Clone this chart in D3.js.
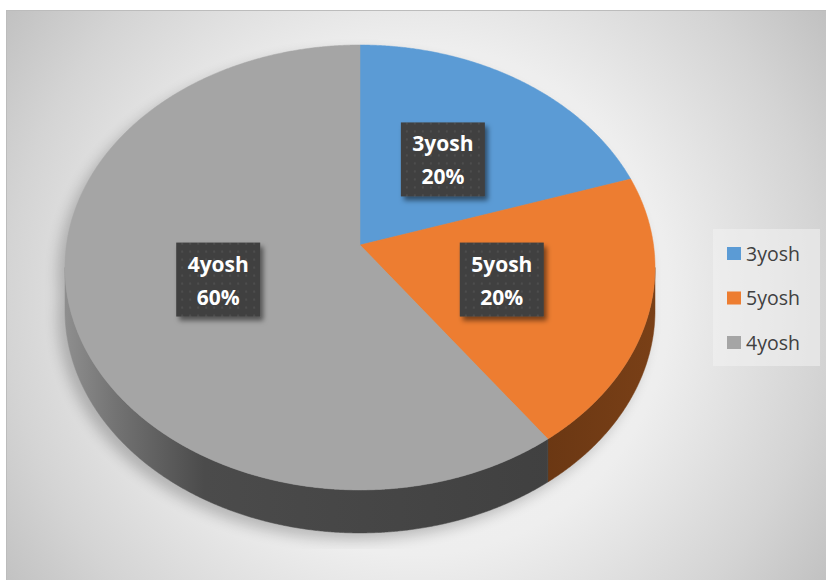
<!DOCTYPE html>
<html>
<head>
<meta charset="utf-8">
<script src="https://d3js.org/d3.v7.min.js"></script>
<style>
  body { margin: 0; background: #fff; }
  svg text { font-family: "Open Sans", "DejaVu Sans", sans-serif; }
</style>
</head>
<body>
<script>

// slice data, in drawing order (clockwise from 12 o'clock)
var categories = ["3yosh", "5yosh", "4yosh"];
var shares = [20, 20, 60];

var W = 826, H = 580;

var svg = d3.select("body").append("svg")
    .attr("width", W)
    .attr("height", H);

var defs = svg.append("defs");

// chart area background: soft radial grey
var bg = defs.append("radialGradient")
    .attr("id", "bgGrad")
    .attr("gradientUnits", "userSpaceOnUse")
    .attr("cx", 415).attr("cy", 300).attr("r", 510);
[[0, "#f3f3f3"], [0.5, "#eeeeee"], [0.8, "#d4d4d4"], [1, "#bfbfbf"]].forEach(function(s) {
  bg.append("stop").attr("offset", s[0]).attr("stop-color", s[1]);
});

// side wall shading for the big grey slice
var wallGrey = defs.append("linearGradient")
    .attr("id", "wallGrey")
    .attr("gradientUnits", "userSpaceOnUse")
    .attr("x1", 66).attr("x2", 560).attr("y1", 0).attr("y2", 0);
[[0, "#8e8e8e"], [0.1, "#737373"], [0.28, "#4b4b4b"], [1, "#404040"]].forEach(function(s) {
  wallGrey.append("stop").attr("offset", s[0]).attr("stop-color", s[1]);
});

var wallOrange = defs.append("linearGradient")
    .attr("id", "wallOrange")
    .attr("gradientUnits", "userSpaceOnUse")
    .attr("x1", 540).attr("x2", 660).attr("y1", 0).attr("y2", 0);
[[0, "#6a3713"], [1, "#7a4017"]].forEach(function(s) {
  wallOrange.append("stop").attr("offset", s[0]).attr("stop-color", s[1]);
});

defs.append("filter").attr("id", "pieShadow")
    .attr("x", "-20%").attr("y", "-20%").attr("width", "140%").attr("height", "140%")
  .append("feGaussianBlur").attr("stdDeviation", 7);

var boxShadow = defs.append("filter").attr("id", "boxShadow")
    .attr("x", "-20%").attr("y", "-20%").attr("width", "150%").attr("height", "150%");
boxShadow.append("feDropShadow")
    .attr("dx", 3).attr("dy", 4).attr("stdDeviation", 2.5)
    .attr("flood-color", "#000").attr("flood-opacity", 0.5);

// dotted texture for the data label boxes
var dots = defs.append("pattern")
    .attr("id", "dots")
    .attr("patternUnits", "userSpaceOnUse")
    .attr("width", 8).attr("height", 8);
dots.append("rect").attr("width", 8).attr("height", 8).attr("fill", "#404040");
dots.append("rect").attr("x", 3).attr("y", 3).attr("width", 2).attr("height", 2).attr("fill", "#4e4e4e");

defs.append("clipPath").attr("id", "plotClip")
  .append("rect").attr("x", 7).attr("y", 11).attr("width", W).attr("height", 538);

// chart area
svg.append("rect")
    .attr("x", 6.5).attr("y", 10.5)
    .attr("width", W).attr("height", H)
    .attr("fill", "url(#bgGrad)")
    .attr("stroke", "#bcbcbc");

var color = d3.scaleOrdinal()
    .domain(categories)
    .range(["#5b9bd5", "#ed7d31", "#a5a5a5"]);

var wallFill = d3.scaleOrdinal()
    .domain(categories)
    .range(["#2e5f8e", "url(#wallOrange)", "url(#wallGrey)"]);

var total = d3.sum(shares);
var pct = d3.format(".0%");

var arcs = d3.pie().sort(null)
    .startAngle(0).endAngle(2 * Math.PI)
    .value(function(d) { return d.value; })(
      categories.map(function(c, i) { return {name: c, value: shares[i]}; }));

// tilted disc seen in perspective: angle t clockwise from top, f = fraction of radius
var cx = 360, cy = 245, A = 293.5, B = 220.2, k = 0.101, depth = 43;
function proj(t, f) {
  if (f == null) f = 1;
  var w = 1 + k * f * Math.cos(t);
  return [cx + A * f * Math.sin(t) / w, cy - B * f * Math.cos(t) / w];
}

function rimPoints(a0, a1, dy) {
  var n = Math.max(2, Math.ceil((a1 - a0) / 0.005));
  return d3.range(n + 1).map(function(i) {
    var p = proj(a0 + (a1 - a0) * i / n);
    return [p[0], p[1] + (dy || 0)];
  });
}

var line = d3.line().curve(d3.curveLinear);

// the front half of the rim is visible between the two silhouette points
var tRight = Math.acos(-k), tLeft = 2 * Math.PI - Math.acos(-k);

// soft shadow under the whole pie
var shadow = svg.append("g")
    .attr("clip-path", "url(#plotClip)")
  .append("g")
    .attr("filter", "url(#pieShadow)")
    .attr("transform", "translate(-7,7)")
    .attr("fill", "#000")
    .attr("opacity", 0.22);
shadow.append("path").attr("d", line(rimPoints(0, 2 * Math.PI)) + "Z");
shadow.append("path").attr("d", line(rimPoints(0, 2 * Math.PI, depth)) + "Z");

// side walls
svg.append("g").selectAll("path")
    .data(arcs.filter(function(d) { return d.endAngle > tRight && d.startAngle < tLeft; }))
  .join("path")
    .attr("d", function(d) {
      var s = Math.max(d.startAngle, tRight), e = Math.min(d.endAngle, tLeft);
      var pts = rimPoints(s, e).concat(rimPoints(s, e, depth).reverse());
      return line(pts) + "Z";
    })
    .attr("fill", function(d) { return wallFill(d.data.name); })
    .attr("stroke", function(d) { return wallFill(d.data.name); })
    .attr("stroke-width", 0.5);

// top faces
svg.append("g").selectAll("path")
    .data(arcs)
  .join("path")
    .attr("d", function(d) {
      return line([proj(0, 0)].concat(rimPoints(d.startAngle, d.endAngle))) + "Z";
    })
    .attr("fill", function(d) { return color(d.data.name); })
    .attr("stroke", function(d) { return color(d.data.name); })
    .attr("stroke-width", 0.5);

// data labels
var boxW = 84, boxH = 74;
var labels = svg.append("g").selectAll("g")
    .data(arcs)
  .join("g")
    .attr("transform", function(d) {
      var p = proj((d.startAngle + d.endAngle) / 2, 0.5);
      return "translate(" + p[0] + "," + p[1] + ")";
    });

labels.append("rect")
    .attr("x", -boxW / 2).attr("y", -boxH / 2)
    .attr("width", boxW).attr("height", boxH)
    .attr("fill", "url(#dots)")
    .attr("filter", "url(#boxShadow)");

labels.append("text")
    .attr("text-anchor", "middle")
    .attr("y", -8)
    .attr("fill", "#fff")
    .style("font-size", "21px")
    .style("font-weight", "bold")
    .text(function(d) { return d.data.name; });

labels.append("text")
    .attr("text-anchor", "middle")
    .attr("y", 25)
    .attr("fill", "#fff")
    .style("font-size", "21px")
    .style("font-weight", "bold")
    .text(function(d) { return pct(d.data.value / total); });

// legend
var legend = svg.append("g").attr("transform", "translate(713,229)");
legend.append("rect")
    .attr("width", 107).attr("height", 137)
    .attr("fill", "#f2f2f2").attr("opacity", 0.55);

var item = legend.selectAll("g.item")
    .data(categories)
  .join("g")
    .attr("class", "item")
    .attr("transform", function(d, i) { return "translate(14," + (18 + i * 44.5) + ")"; });

item.append("rect")
    .attr("width", 14).attr("height", 13)
    .attr("fill", function(d) { return color(d); });

item.append("text")
    .attr("x", 19).attr("y", 13.5)
    .attr("fill", "#404040")
    .style("font-size", "19.5px")
    .text(function(d) { return d; });

</script>
</body>
</html>
